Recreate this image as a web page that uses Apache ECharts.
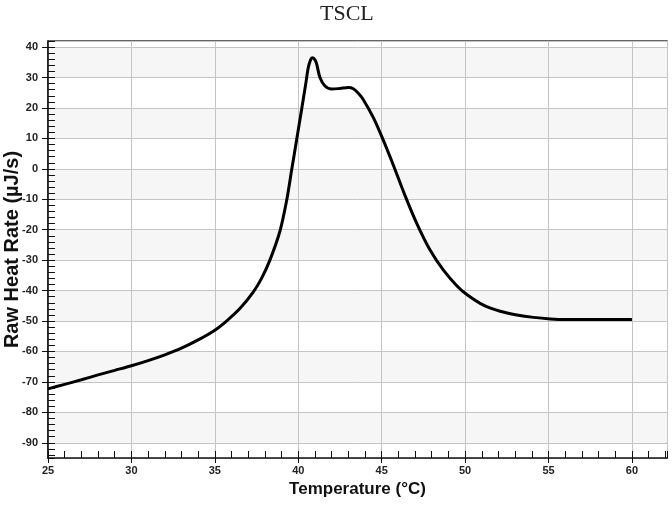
<!DOCTYPE html>
<html lang="en">
<head>
  <meta charset="UTF-8">
  <title>TSCL</title>
  <script src="https://cdn.jsdelivr.net/npm/echarts@6/dist/echarts.min.js"></script>
  <style>
    html, body { margin: 0; padding: 0; background: #fff; }
    #chart { width: 672px; height: 506px; }
  </style>
</head>
<body>
  <div id="chart"></div>
  <script>
    // temperature (°C) and heat rate (µJ/s)
    const temperature = [25, 26, 27, 28, 29, 30, 31, 32, 33, 34, 35, 35.7, 36.5, 37.3, 37.8,
      38.3, 38.9, 39.3, 39.6, 39.9, 40.2, 40.45, 40.6, 40.75, 40.87, 41.0, 41.1, 41.3, 41.6,
      42.0, 42.5, 43.0, 43.3, 43.6, 43.9, 44.5, 45.05, 45.7, 46.4, 47.1, 47.9, 48.7, 49.5,
      50.1, 51.1, 52.1, 53.1, 54.1, 55.1, 56, 58, 60];
    const heatRate = [-72.3, -70.8, -69.3, -67.7, -66.2, -64.7, -63.0, -61.1, -58.9, -56.2, -53.0, -50.0, -45.9, -40.5, -36,
      -30, -20.5, -10.5, -0.5, 9.5, 19.5, 28, 33.3, 36, 36.5, 35.8, 34.5, 30, 27.2,
      26.2, 26.4, 26.7, 26.3, 24.8, 22.7, 16.8, 10, 1.2, -8.8, -17.9, -26.7, -33.3, -38.4,
      -41.3, -44.8, -46.8, -48.0, -48.8, -49.3, -49.5, -49.5, -49.5];

    const xMin = 25, xMax = 62.1;
    const yMin = -95, yMax = 42;

    const chart = echarts.init(document.getElementById('chart'));

    const labelFont = { color: '#222', fontSize: 11, fontWeight: 'bold', fontFamily: 'Liberation Sans, Arial' };
    const nameFont = { color: '#111', fontSize: 17, fontWeight: 'bold', fontFamily: 'Liberation Sans, Arial' };

    chart.setOption({
      animation: false,
      backgroundColor: '#fff',
      title: {
        text: 'TSCL',
        left: 315,
        top: -2,
        textStyle: { fontFamily: 'Liberation Serif, Times New Roman', fontSize: 22, fontWeight: 'normal', color: '#222' }
      },
      grid: {
        left: 48, right: 5, top: 41, bottom: 48,
        outerBoundsMode: 'none',
        show: true,
        borderColor: '#333',
        borderWidth: 1.5,
        backgroundColor: 'transparent'
      },
      xAxis: [
        {
          type: 'value', min: xMin, max: xMax, interval: 5, position: 'bottom',
          name: 'Temperature (°C)', nameLocation: 'middle', nameGap: 23, nameMoveOverlap: false, nameTextStyle: nameFont,
          axisLine: { onZero: false, lineStyle: { color: '#111', width: 1.5 } },
          axisTick: { show: true, length: 5, lineStyle: { color: '#111', width: 1 } },
          axisLabel: Object.assign({ margin: 7, showMaxLabel: false }, labelFont),
          splitLine: { show: true, lineStyle: { color: '#c4c4c4', width: 1 } }
        },
        {
          // minor ticks pointing inwards
          type: 'value', min: xMin, max: xMax, interval: 1, position: 'bottom',
          axisLine: { show: false, onZero: false },
          axisTick: { show: true, inside: true, length: 7, lineStyle: { color: '#111', width: 1 } },
          axisLabel: { show: false },
          splitLine: { show: false }
        }
      ],
      yAxis: [
        {
          type: 'value', min: yMin, max: yMax, splitNumber: 14, position: 'left',
          name: 'Raw Heat Rate (µJ/s)', nameLocation: 'middle', nameGap: 26, nameMoveOverlap: false,
          nameTextStyle: Object.assign({}, nameFont, { fontSize: 20 }),
          axisLine: { show: true, onZero: false, lineStyle: { color: '#111', width: 1.5 } },
          axisTick: { show: true, length: 6, lineStyle: { color: '#111', width: 1 } },
          axisLabel: Object.assign({ margin: 10, showMinLabel: false, showMaxLabel: false }, labelFont),
          splitLine: { show: true, lineStyle: { color: '#c4c4c4', width: 1 } },
          splitArea: { show: true, areaStyle: { color: ['#ffffff', '#f6f6f6'] } }
        },
        {
          type: 'value', min: yMin, max: yMax, splitNumber: 68, position: 'left',
          axisLine: { show: false, onZero: false },
          axisTick: { show: true, inside: true, length: 7, lineStyle: { color: '#111', width: 1 } },
          axisLabel: { show: false },
          splitLine: { show: false }
        }
      ],
      series: [
        {
          type: 'line',
          xAxisIndex: 0,
          yAxisIndex: 0,
          data: temperature.map((t, i) => [t, heatRate[i]]),
          symbol: 'none',
          smooth: 0.3,
          silent: true,
          lineStyle: { color: '#000', width: 3 }
        }
      ]
    });
  </script>
</body>
</html>
